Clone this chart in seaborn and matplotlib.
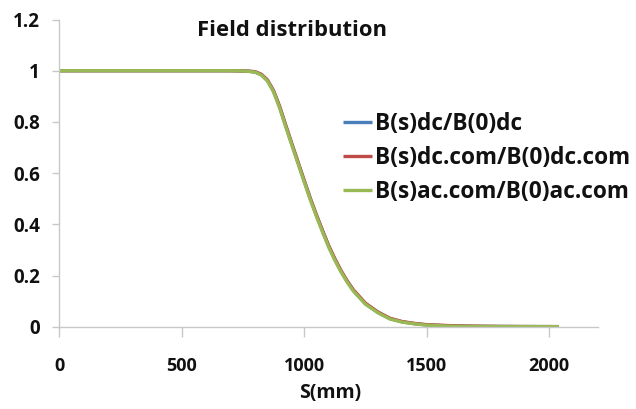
import matplotlib
matplotlib.use("Agg")
import matplotlib.pyplot as plt
import seaborn as sns
import pandas as pd

# Axial position along the magnet (mm)
s_mm = [0, 100, 200, 300, 400, 500, 600, 700, 750, 775, 800, 825, 850, 875,
        900, 925, 950, 975, 1000, 1025, 1050, 1075, 1100, 1125, 1150, 1175,
        1200, 1250, 1300, 1350, 1400, 1450, 1500, 1550, 1600, 1700, 1800,
        1900, 2000, 2040]

# Normalised field profiles
b_dc = [1.0, 1.0, 1.0, 1.0, 1.0, 1.0, 1.0, 1.0, 0.999, 0.998, 0.995, 0.985,
        0.962, 0.920, 0.858, 0.784, 0.712, 0.641, 0.570, 0.500, 0.435, 0.374,
        0.315, 0.264, 0.218, 0.178, 0.143, 0.090, 0.057, 0.032, 0.019, 0.012,
        0.007, 0.005, 0.003, 0.0015, 0.0008, 0.0005, 0.0003, 0.0002]
b_dc_com = [1.0, 1.0, 1.0, 1.0, 1.0, 1.0, 1.0, 1.0, 0.999, 0.998, 0.996,
            0.986, 0.964, 0.922, 0.860, 0.786, 0.714, 0.643, 0.572, 0.502,
            0.437, 0.376, 0.317, 0.266, 0.220, 0.180, 0.145, 0.092, 0.058,
            0.033, 0.020, 0.013, 0.008, 0.006, 0.004, 0.002, 0.001, 0.0006,
            0.0004, 0.0003]
b_ac_com = [1.0, 1.0, 1.0, 1.0, 1.0, 1.0, 1.0, 1.0, 0.999, 0.997, 0.994,
            0.983, 0.960, 0.917, 0.854, 0.780, 0.708, 0.637, 0.566, 0.496,
            0.431, 0.370, 0.311, 0.260, 0.215, 0.175, 0.140, 0.088, 0.055,
            0.030, 0.018, 0.011, 0.006, 0.004, 0.002, 0.001, 0.0005, 0.0003,
            0.0002, 0.0001]

series_names = ["B(s)dc/B(0)dc", "B(s)dc.com/B(0)dc.com", "B(s)ac.com/B(0)ac.com"]
series_values = [b_dc, b_dc_com, b_ac_com]
colors = ["#4A7EBB", "#BE4B48", "#98B954"]

df = pd.concat(
    [pd.DataFrame({"S": s_mm, "B": vals, "series": name})
     for name, vals in zip(series_names, series_values)],
    ignore_index=True,
)

sns.set_theme(style="white")
plt.rcParams["font.family"] = ["Open Sans", "DejaVu Sans"]
plt.rcParams["font.weight"] = "bold"
plt.rcParams["lines.solid_capstyle"] = "butt"

fig = plt.figure(figsize=(6.36, 4.09), dpi=100)
ax = fig.add_axes([59.3 / 636, 1 - 326.7 / 409, (598 - 59.3) / 636, (326.7 - 19.5) / 409])

sns.lineplot(data=df, x="S", y="B", hue="series", hue_order=series_names,
             palette=colors, linewidth=2.4, ax=ax, sort=False)

ax.set_xlim(0, 2200)
ax.set_ylim(0, 1.2)
ax.set_xticks([0, 500, 1000, 1500, 2000])
ax.set_yticks([0, 0.2, 0.4, 0.6, 0.8, 1.0, 1.2])
ax.set_yticklabels(["0", "0.2", "0.4", "0.6", "0.8", "1", "1.2"])

for side in ["top", "right"]:
    ax.spines[side].set_visible(False)
for side in ["left", "bottom"]:
    ax.spines[side].set_color("#C8C8C8")
    ax.spines[side].set_linewidth(1.0)

ax.tick_params(axis="x", direction="out", length=7, width=1, color="#C8C8C8",
               pad=15, labelsize=13, labelcolor="#111111")
ax.tick_params(axis="y", direction="out", length=5, width=1, color="#C8C8C8",
               pad=9, labelsize=13.5, labelcolor="#111111")
ax.tick_params(bottom=True, left=True)

ax.set_xlabel("S(mm)", fontsize=14, fontweight="bold", color="#111111", va="center")
ax.xaxis.set_label_coords((330 - 59.3) / (598 - 59.3), -(393 - 326.7) / (326.7 - 19.5))
ax.set_ylabel("")

fig.text(292 / 636, 1 - 30 / 409, "Field distribution", ha="center", va="center",
         fontsize=15.8, fontweight="bold", color="#111111")

leg = ax.legend(loc="center left",
                bbox_to_anchor=((343 - 59.3) / (598 - 59.3), (326.7 - 158) / (326.7 - 19.5)),
                frameon=False, fontsize=16.3, handlelength=1.3, handletextpad=0.1,
                labelspacing=0.45, borderpad=0, borderaxespad=0)
for line in leg.get_lines():
    line.set_linewidth(2.4)
for txt in leg.get_texts():
    txt.set_fontweight("bold")
    txt.set_color("#111111")

fig.savefig("out.png", dpi=100)
